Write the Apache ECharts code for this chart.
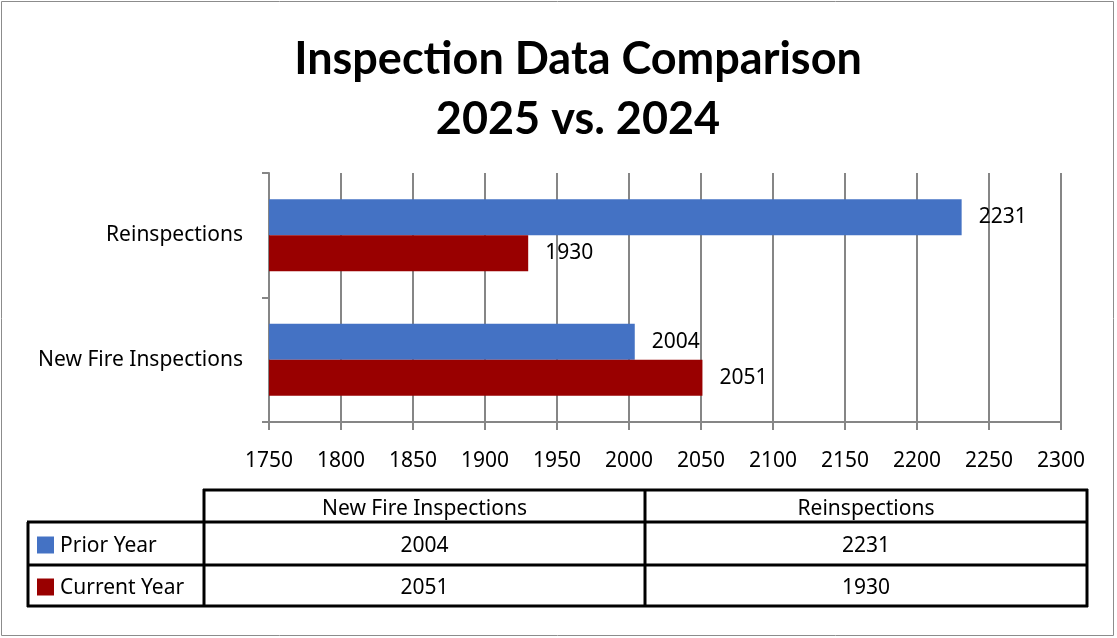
<!DOCTYPE html>
<html><head><meta charset="utf-8">
<script src="https://cdn.jsdelivr.net/npm/echarts@6/dist/echarts.min.js"></script>
<style>html,body{margin:0;padding:0;background:#fff}#c{width:1117px;height:638px}</style>
</head><body><div id="c"></div>
<script>
const categories = ['New Fire Inspections', 'Reinspections'];
const seriesNames = ['Prior Year', 'Current Year'];
const priorYear = [2004, 2231];
const currentYear = [2051, 1930];
const xTicks = {min: 1750, max: 2300, interval: 50};
const colors = ['#4472C4', '#990000'];
const FONT = 'Noto Sans';
const TFONT = 'Lato';
const FS = 21;

const chart = echarts.init(document.getElementById('c'));

// data table graphics
const g = [];
const L = 28, C0 = 204, C1 = 645, R = 1087;
const Y0 = 490, Y1 = 522, Y2 = 565, Y3 = 606;
const lw = 3;
function hline(x1, x2, y){ g.push({type:'line', shape:{x1, y1:y, x2, y2:y}, style:{stroke:'#000', lineWidth:lw}}); }
function vline(x, y1, y2){ g.push({type:'line', shape:{x1:x, y1, x2:x, y2}, style:{stroke:'#000', lineWidth:lw}}); }
function txt(x, y, s, align){ g.push({type:'text', x, y, style:{text:String(s), font:FS+'px "'+FONT+'"', fill:'#000', align:align||'center', verticalAlign:'middle'}}); }
hline(C0-1, R+1, Y0); hline(L-1, R+1, Y1); hline(L-1, R+1, Y2); hline(L-1, R+1, Y3);
vline(L, Y1, Y3+1); vline(C0, Y0-1, Y3+1); vline(C1, Y0-1, Y3+1); vline(R, Y0-1, Y3+1);
const colCenters = [(C0+C1)/2, (C1+R)/2];
categories.forEach((c,i)=>txt(colCenters[i], (Y0+Y1)/2+3, c));
const rowData = [priorYear, currentYear];
const rowY = [(Y1+Y2)/2+3, (Y2+Y3)/2+3];
seriesNames.forEach((n,r)=>{
  g.push({type:'rect', shape:{x:37, y:rowY[r]-10, width:17, height:17}, style:{fill:colors[r]}});
  txt(60, rowY[r], n, 'left');
  rowData[r].forEach((v,i)=>txt(colCenters[i], rowY[r], v));
});
// outer border
g.push({type:'rect', shape:{x:1.5, y:1.5, width:1112, height:634}, style:{fill:'none', stroke:'#8c8c8c', lineWidth:1}, z:-1});

const lbl = {show:true, position:'right', distance:17, fontFamily:FONT, fontSize:FS, color:'#000'};
chart.setOption({
  animation:false,
  title:{text:'Inspection Data Comparison\n2025 vs. 2024', left:573, top:24, textAlign:'center',
    textStyle:{fontFamily:TFONT, fontWeight:'bold', fontSize:45, lineHeight:60, color:'#000'}},
  grid:{left:269, right:56, top:173, height:249, containLabel:false},
  xAxis:{type:'value', min:xTicks.min, max:xTicks.max, interval:xTicks.interval,
    axisLine:{show:true, lineStyle:{color:'#868686', width:2}},
    axisTick:{show:true, length:8, lineStyle:{color:'#868686', width:2}},
    splitLine:{show:true, lineStyle:{color:'#868686', width:2}},
    axisLabel:{fontFamily:FONT, fontSize:FS, color:'#000', margin:29, formatter:v=>String(v)}},
  yAxis:{type:'category', data:categories,
    axisLine:{show:true, lineStyle:{color:'#868686', width:2}},
    axisTick:{show:true, length:7, lineStyle:{color:'#868686', width:2}},
    axisLabel:{fontFamily:FONT, fontSize:FS, color:'#000', margin:26}},
  series:[
    {name:seriesNames[0], type:'bar', data:priorYear, barWidth:36, barGap:'0%', itemStyle:{color:colors[0]}, label:lbl},
    {name:seriesNames[1], type:'bar', data:currentYear, barWidth:36, barGap:'0%', itemStyle:{color:colors[1]}, label:lbl}
  ],
  graphic:g
});
</script></body></html>
